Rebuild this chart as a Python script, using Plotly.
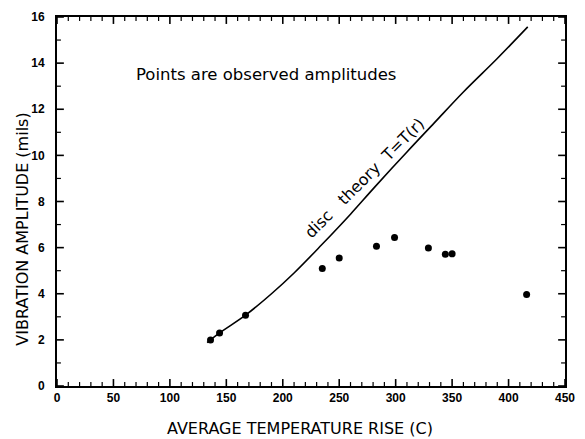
import plotly.graph_objects as go

# Observed amplitudes
obs_temp = [136, 144, 167, 235, 250, 283, 299, 329, 344, 350, 416]
obs_amp = [2.0, 2.3, 3.07, 5.1, 5.55, 6.06, 6.44, 5.98, 5.71, 5.73, 3.97]

# Disc theory curve
theory_temp = [133, 144, 167, 190, 210, 234, 260, 281, 310, 334, 360, 390, 417]
theory_amp = [1.88, 2.3, 3.07, 4.0, 4.9, 6.1, 7.45, 8.6, 10.15, 11.4, 12.75, 14.2, 15.57]

x_range = [0, 450]
y_range = [0, 16]
x_major, x_minor = 50, 10
y_major, y_minor = 2, 1

W, H = 585, 439
M = dict(l=57, r=10, t=14, b=53)
plot_w = W - M["l"] - M["r"]
plot_h = H - M["t"] - M["b"]

txt_font = "DejaVu Sans, Liberation Sans, sans-serif"
tick_font = dict(family="Liberation Sans Narrow, Liberation Sans, sans-serif", size=12,
                 color="black", weight="bold")

fig = go.Figure()
fig.add_trace(go.Scatter(x=theory_temp, y=theory_amp, mode="lines",
                         line=dict(color="black", width=1.6, shape="spline", smoothing=1.0),
                         showlegend=False))
fig.add_trace(go.Scatter(x=obs_temp, y=obs_amp, mode="markers",
                         marker=dict(color="black", size=7), showlegend=False))

axis_common = dict(showgrid=False, zeroline=False, showline=True, linecolor="black",
                   linewidth=2, ticks="", mirror=True, tickfont=tick_font,
                   tickmode="linear", tick0=0)
fig.update_xaxes(range=x_range, dtick=x_major, **axis_common)
fig.update_yaxes(range=y_range, dtick=y_major, ticklabelstandoff=8, **axis_common)

# inward tick marks on all four sides, placed through the axis scales
major_len, minor_len = 7, 4
for v in range(x_range[0], x_range[1] + 1, x_minor):
    L = (major_len if v % x_major == 0 else minor_len) / plot_h
    w = 1.6 if v % x_major == 0 else 1.2
    for y0, y1 in ((0, L), (1, 1 - L)):
        fig.add_shape(type="line", xref="x", yref="paper", x0=v, x1=v, y0=y0, y1=y1,
                      line=dict(color="black", width=w), layer="above")
for v in range(y_range[0], y_range[1] + 1, y_minor):
    L = (major_len if v % y_major == 0 else minor_len) / plot_w
    w = 1.6 if v % y_major == 0 else 1.2
    for x0, x1 in ((0, L), (1, 1 - L)):
        fig.add_shape(type="line", xref="paper", yref="y", x0=x0, x1=x1, y0=v, y1=v,
                      line=dict(color="black", width=w), layer="above")

fig.add_annotation(x=68, y=13.5, xref="x", yref="y", text="Points are observed amplitudes",
                   showarrow=False, xanchor="left", yanchor="middle",
                   font=dict(family=txt_font, size=16.5, color="black"))
fig.add_annotation(x=272, y=9.0, xref="x", yref="y",
                   text="disc\u00a0\u00a0\u00a0theory\u00a0\u00a0T=T(r)",
                   showarrow=False, textangle=-45, xanchor="center", yanchor="middle",
                   font=dict(family=txt_font, size=16, color="black"))
fig.add_annotation(x=0.478, y=-0.116, xref="paper", yref="paper",
                   text="AVERAGE TEMPERATURE RISE (C)", showarrow=False,
                   xanchor="center", yanchor="middle",
                   font=dict(family=txt_font, size=16, color="black"))
fig.add_annotation(x=-0.068, y=0.425, xref="paper", yref="paper",
                   text="VIBRATION AMPLITUDE (mils)", showarrow=False, textangle=-90,
                   xanchor="center", yanchor="middle",
                   font=dict(family=txt_font, size=16, color="black"))

fig.update_layout(width=W, height=H, margin=M,
                  plot_bgcolor="white", paper_bgcolor="white")

fig.write_html("out.html")
